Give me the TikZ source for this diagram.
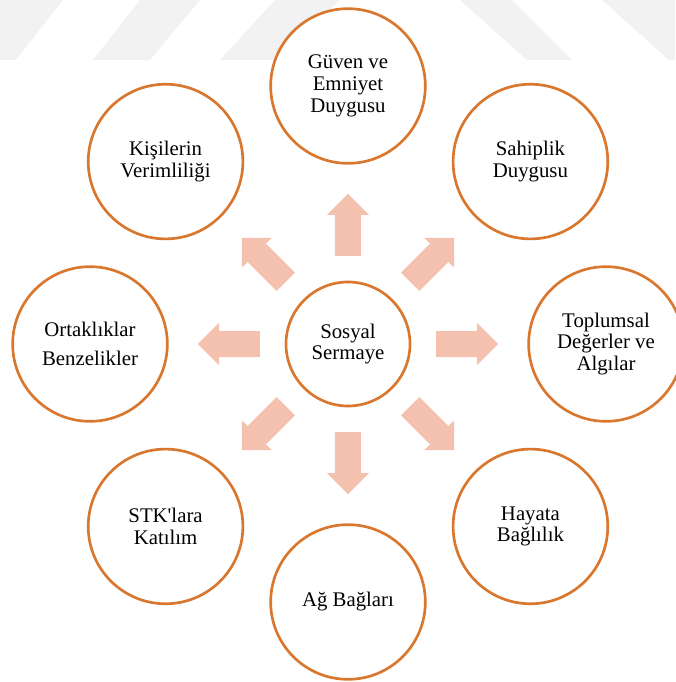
\documentclass[tikz,border=0pt]{standalone}
\usepackage{fontspec}
\setmainfont{Liberation Serif}[Ligatures=TeXOff]
\definecolor{ringorange}{HTML}{D9772F}
\definecolor{arrowpink}{HTML}{F4C1AE}
\definecolor{wmarkgray}{HTML}{F2F2F2}
\newcommand{\bubblefont}{\fontsize{15.6}{16.3}\selectfont}
\tikzset{
	bubble/.style={circle, draw=ringorange, line width=2pt, fill=white, inner sep=0pt, align=center, font=\bubblefont},
	hub/.style={bubble, minimum size=93pt},
	leaf/.style={bubble, minimum size=116pt},
	blockarrow/.style={fill=arrowpink}
}
\begin{document}
\begin{tikzpicture}[x=0.75pt, y=0.75pt, line join=round]
			\useasboundingbox (-348,-338) rectangle (327,344);
			
			% faint stripes at the top
			\begin{scope}[shift={(-348,344)}, yscale=-1]
				\fill[wmarkgray] (0,0) -- (63,0) -- (16,60) -- (0,60) -- cycle;
				\fill[wmarkgray] (140,0) -- (200,0) -- (150,60) -- (93,60) -- cycle;
				\fill[wmarkgray] (275,0) -- (340,0) -- (275,60) -- (220,60) -- cycle;
				\fill[wmarkgray] (460,0) -- (512,0) -- (572,60) -- (527,60) -- cycle;
				\fill[wmarkgray] (602,0) -- (675,0) -- (675,60) -- (669,60) -- cycle;
			\end{scope}
			
			\node[hub] (S) at (0,0) {Sosyal\\Sermaye};
			
			\foreach \name/\angle/\txt in {
				guven/90/{Güven ve\\Emniyet\\Duygusu},
				sahip/45/{Sahiplik\\Duygusu},
				toplum/0/{Toplumsal\\Değerler ve\\Algılar},
				hayat/-45/{Hayata\\Bağlılık},
				ag/-90/{Ağ Bağları},
				stk/-135/{STK'lara\\Katılım},
				ortak/180/{Ortaklıklar\\[5.4pt]Benzelikler},
				kisi/135/{Kişilerin\\Verimliliği}}
			\node[leaf] (\name) at (\angle:258) {\txt};
			
			\foreach \angle in {0,45,...,315}
			\fill[blockarrow, rotate=\angle] (88,-13) -- (129,-13) -- (129,-21) -- (150,0) -- (129,21) -- (129,13) -- (88,13) -- cycle;
		\end{tikzpicture}
\end{document}
